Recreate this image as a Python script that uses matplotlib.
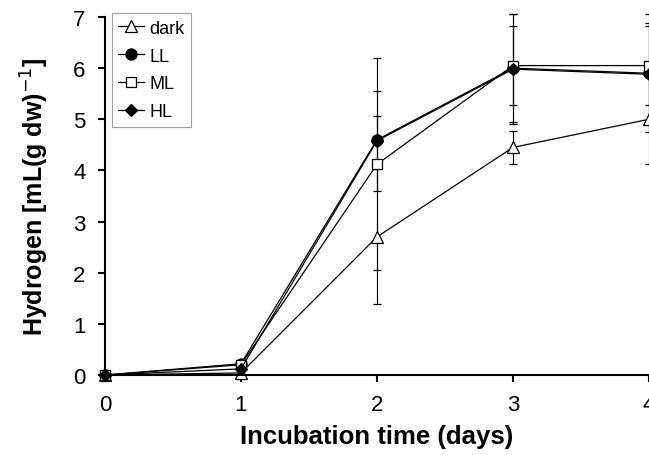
import matplotlib.pyplot as plt

plt.rcParams['font.family'] = ['Liberation Sans', 'DejaVu Sans']

days = [0, 1, 2, 3, 4]

dark = [0.0, 0.04, 2.70, 4.45, 5.00]
dark_err = [0.0, 0.08, 1.32, 0.33, 0.88]

ll = [0.0, 0.22, 4.60, 6.00, 5.90]
ll_err = [0.0, 0.05, 0.46, 1.06, 1.15]

ml = [0.0, 0.20, 4.12, 6.05, 6.05]
ml_err = [0.0, 0.05, 2.07, 0.77, 0.77]

hl = [0.0, 0.12, 4.58, 5.98, 5.88]
hl_err = [0.0, 0.05, 0.98, 1.08, 1.0]

series = [
    ('dark', dark, dark_err, '^', 'white', 9),
    ('LL', ll, ll_err, 'o', 'black', 8),
    ('ML', ml, ml_err, 's', 'white', 7),
    ('HL', hl, hl_err, 'D', 'black', 6),
]

fig = plt.figure(figsize=(6.49, 4.56), dpi=100)
ax = fig.add_axes([105 / 649, 1 - 376 / 456, 544 / 649, 358 / 456])

handles = []
for name, vals, errs, marker, face, size in series:
    cont = ax.errorbar(days, vals, yerr=errs, color='black', lw=0.9, elinewidth=0.8,
                       capsize=3, capthick=0.8, marker=marker, markersize=size,
                       markerfacecolor=face, markeredgecolor='black', markeredgewidth=0.9,
                       label=name, clip_on=False)
    handles.append(cont[0])

ax.set_xlim(0, 4)
ax.set_ylim(0, 7)
ax.set_xticks(days)
ax.set_yticks(range(8))
ax.spines['top'].set_visible(False)
ax.spines['right'].set_visible(False)
ax.spines['left'].set_linewidth(1.5)
ax.spines['bottom'].set_linewidth(1.5)
ax.tick_params(direction='out', length=5, width=1.5, labelsize=16, pad=9)

ax.set_xlabel('Incubation time (days)', fontsize=18.5, fontweight='bold', labelpad=6)
ax.set_ylabel('Hydrogen [mL(g dw)$^{-1}$]', fontsize=18, fontweight='bold', labelpad=16)

leg = ax.legend(handles, [s[0] for s in series], loc='upper left',
                bbox_to_anchor=(0.013, 1.01), fontsize=13,
                frameon=True, fancybox=False, edgecolor='#888888',
                handlelength=1.4, handletextpad=0.3, borderpad=0.35,
                labelspacing=0.6, borderaxespad=0)
leg.get_frame().set_linewidth(0.8)

fig.savefig('out.png', dpi=100)
